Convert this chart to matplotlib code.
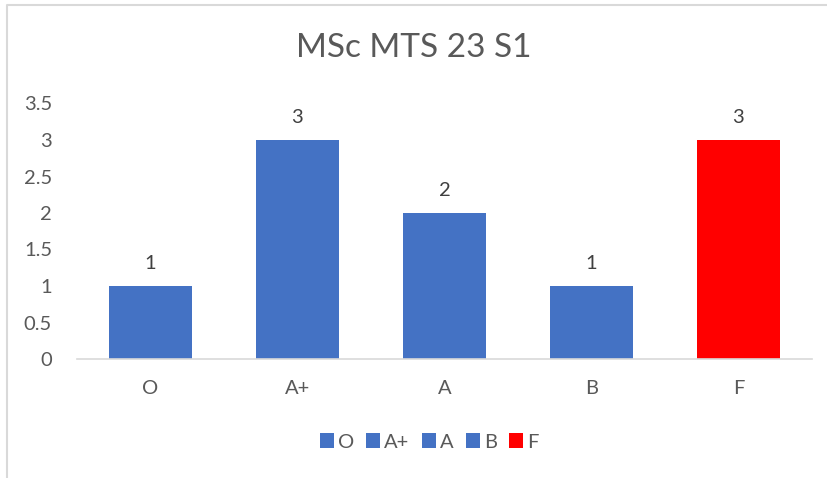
import matplotlib.pyplot as plt
from matplotlib.patches import Patch
from matplotlib.lines import Line2D

grades = ['O', 'A+', 'A', 'B', 'F']
counts = [1, 3, 2, 1, 3]
colors = ['#4472C4', '#4472C4', '#4472C4', '#4472C4', '#FF0000']

plt.rcParams['font.family'] = ['Lato', 'DejaVu Sans']
txt = '#595959'

fig = plt.figure(figsize=(8.28, 4.78), dpi=100)
ax = fig.add_axes([77 / 828, 1 - 359 / 478, 735 / 828, 255.5 / 478])

x = range(len(grades))
bars = ax.bar(x, counts, width=0.57, color=colors)
for b, v in zip(bars, counts):
    ax.text(b.get_x() + b.get_width() / 2, v + 0.19, str(v), ha='center', va='bottom',
            fontsize=14.5, color='#404040')

ax.set_xlim(-0.5, len(grades) - 0.5)
ax.set_ylim(0, 3.5)
ax.set_yticks([0, 0.5, 1, 1.5, 2, 2.5, 3, 3.5])
ax.set_yticklabels(['0', '0.5', '1', '1.5', '2', '2.5', '3', '3.5'])
ax.set_xticks(list(x))
ax.set_xticklabels(grades)
ax.tick_params(axis='y', length=0, pad=18, labelsize=14.5, labelcolor=txt)
ax.tick_params(axis='x', length=0, pad=15, labelsize=14.5, labelcolor=txt)
for s in ['top', 'right', 'left']:
    ax.spines[s].set_visible(False)
ax.spines['bottom'].set_color('#D9D9D9')
ax.spines['bottom'].set_linewidth(1.2)

fig.text(414 / 828, 1 - 48 / 478, 'MSc MTS 23 S1', ha='center', va='center',
         fontsize=24, color=txt)

handles = [Patch(facecolor=c, label=g) for g, c in zip(grades, colors)]
fig.legend(handles=handles, loc='center', bbox_to_anchor=(429 / 828, 1 - 442 / 478),
           ncol=5, frameon=False, fontsize=14.5, labelcolor=txt, handlelength=0.7,
           handleheight=0.7, handletextpad=0.2, columnspacing=0.6)

# chart area border (left and top edges visible)
fig.add_artist(Line2D([7 / 828, 7 / 828, 1], [0, 1 - 5 / 478, 1 - 5 / 478],
                      transform=fig.transFigure, color='#D9D9D9', linewidth=1.5))

fig.savefig('out.png', dpi=100)
